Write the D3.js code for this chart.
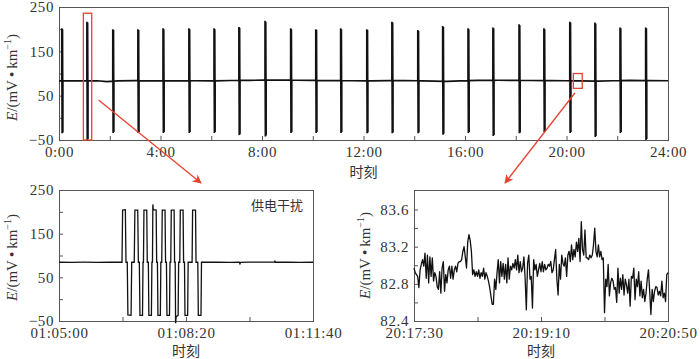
<!DOCTYPE html>
<html><head><meta charset="utf-8">
<script src="https://cdn.jsdelivr.net/npm/d3@7/dist/d3.min.js"></script>
<style>
html,body{margin:0;padding:0;background:#fff;}
</style></head>
<body>
<svg id="chart" width="700" height="359"></svg>
<script>
// ===== DATA =====
// Top overview: 24 h record
const topXTicks = [0, 4, 8, 12, 16, 20, 24];
const topXTickLabels = ["0:00", "4:00", "8:00", "12:00", "16:00", "20:00", "24:00"];
const topXMinor = [2, 6, 10, 14, 18, 22];
const topYTicks = [-50, 50, 150, 250];
const topYMinor = [0, 100, 200];
const baseHours = [0, 0.6, 1.5, 1.9, 2.3, 3.0, 3.6, 4.5, 5.3, 6.0, 6.8, 7.5, 8.0, 8.6, 9.3, 10.0, 10.6, 11.5, 12.3, 13.0, 13.6, 14.3, 14.8, 15.3, 15.8, 16.5, 17.3, 18.0, 18.6, 19.4, 20.0, 20.5, 21.3, 21.8, 22.5, 23.3, 24];
const baseValues = [83.5, 83.2, 83.6, 81.8, 83.4, 83.8, 83.3, 83.5, 83.6, 83.4, 84.2, 84.6, 85.0, 85.2, 84.8, 84.5, 84.0, 83.6, 83.3, 83.8, 84.0, 83.5, 82.6, 82.2, 83.4, 84.3, 84.8, 84.5, 84.2, 84.0, 83.7, 83.2, 82.6, 83.6, 84.6, 84.0, 83.6];
const spikeHours = [0.11, 1.10, 2.12, 3.11, 4.10, 5.12, 6.11, 7.09, 8.12, 9.13, 10.12, 11.10, 12.13, 13.12, 14.14, 15.12, 16.12, 17.10, 18.13, 19.11, 20.13, 21.12, 22.11, 23.12];
const spikeMax = [202, 217, 200, 200, 202, 202, 202, 205, 219, 202, 200, 202, 200, 217, 198, 207, 202, 204, 211, 202, 217, 215, 204, 204];
const spikeMin = [-35, -50, -34, -34, -34, -34, -34, -39, -42, -34, -34, -34, -35, -35, -35, -38, -34, -41, -35, -32, -34, -43, -34, -50];

// Bottom-left zoom: 01:05:00 - 01:11:40 (seconds from 01:05:00)
const leftXTicks = [0, 200, 400];
const leftXTickLabels = ["01:05:00", "01:08:20", "01:11:40"];
const leftXMinor = [100, 300];
const leftT = [0, 20, 40, 60, 80, 99.2, 100.2, 104.5, 105.5, 107.5, 108.5, 113.5, 114.5, 118.5, 119.5, 124, 125, 126.5, 127.5, 131.5, 132.3, 133, 133.8, 138.2, 139, 140.7, 141.5, 145.5, 146.3, 147.2, 147.8, 148.5, 153, 153.8, 155, 155.8, 159.6, 160.4, 161.8, 162.6, 167, 167.8, 169.2, 170, 174, 174.8, 176, 176.8, 181.3, 182, 183, 183.6, 184.5, 187.6, 188.4, 190.2, 191, 195.4, 196.2, 197.6, 198.4, 202.6, 203.4, 209.6, 210.4, 215, 215.8, 218.6, 219.4, 223.6, 224.4, 250, 270, 284, 285, 286, 300, 320, 339, 340, 341, 360, 380, 400];
const leftV = [84.5, 84.3, 84.6, 84.4, 84.5, 84.5, 204, 205, 84.5, 84.5, -36, -37, 84.5, 84.5, 204, 204, 84.5, 84.5, -37, -37, 84.5, 84.5, 204, 204, 84.5, 84.5, -37, -37, 84.5, 84.5, 217, 205, 204, 84.5, 84.5, -37, -37, 84.5, 84.5, 204, 204, 84.5, 84.5, -37, -37, 84.5, 84.5, 204, 204, 84.5, 84.5, -55, -40, -37, 84.5, 84.5, 204, 204, 84.5, 84.5, -37, -37, 84.5, 84.5, 204, 204, 84.5, 84.5, -37, -37, 84.5, 84.5, 84.4, 84.6, 81, 84.4, 84.6, 84.7, 84.8, 87, 84.6, 84.6, 84.4, 84.5];
const leftYTicks = [-50, 50, 150, 250];
const leftYMinor = [0, 100, 200];

// Bottom-right zoom: 20:17:30 - 20:20:50, ~1 s samples
const rightXTicks = [0, 100, 200];
const rightXTickLabels = ["20:17:30", "20:19:10", "20:20:50"];
const rightXMinor = [50, 150];
const rightYTicks = [82.4, 82.8, 83.2, 83.6];
const rightYMinor = [82.6, 83.0, 83.4];
const rightV = [82.97, 82.92, 82.90, 82.88, 82.76, 82.95, 83.01, 83.06, 82.99, 83.13, 82.86, 83.11, 82.81, 83.09, 82.88, 83.08, 82.83, 82.92, 82.88, 82.77, 82.74, 82.93, 82.70, 82.97, 83.04, 82.72, 82.90, 82.81, 82.95, 82.99, 82.86, 82.99, 82.85, 82.95, 82.99, 82.93, 83.02, 83.04, 83.04, 83.06, 83.15, 83.20, 83.09, 82.97, 83.25, 83.33, 83.27, 83.15, 82.90, 82.95, 82.88, 82.93, 82.88, 82.95, 82.86, 82.92, 82.88, 82.97, 82.85, 82.92, 82.88, 82.83, 82.76, 82.67, 82.58, 82.58, 82.85, 82.74, 82.92, 83.06, 82.81, 83.04, 82.88, 83.02, 82.85, 83.01, 82.81, 83.08, 82.85, 82.99, 82.95, 83.02, 82.97, 83.06, 82.95, 83.11, 82.92, 83.04, 82.93, 82.97, 83.09, 82.86, 82.52, 83.02, 83.11, 82.85, 82.88, 82.54, 83.06, 82.95, 83.01, 82.88, 82.95, 83.02, 82.93, 83.04, 82.93, 83.01, 82.95, 82.97, 83.01, 82.99, 83.04, 82.92, 82.95, 83.06, 83.17, 82.85, 82.68, 83.01, 82.85, 83.11, 83.02, 82.99, 83.08, 82.88, 83.11, 83.15, 83.04, 83.22, 83.06, 83.17, 83.09, 83.25, 83.15, 83.29, 83.04, 83.47, 83.17, 83.11, 83.38, 83.08, 83.08, 83.06, 83.11, 83.08, 83.11, 83.22, 83.40, 83.15, 83.09, 83.22, 83.09, 83.15, 83.06, 83.08, 82.49, 82.85, 82.77, 83.01, 82.67, 82.81, 82.86, 82.83, 82.74, 82.76, 82.60, 82.97, 82.70, 82.86, 82.74, 82.90, 82.68, 82.85, 82.79, 82.70, 82.85, 82.56, 82.88, 82.86, 82.97, 82.63, 82.85, 82.77, 82.93, 82.67, 82.83, 82.65, 82.74, 82.61, 82.70, 82.85, 82.95, 82.72, 82.47, 82.74, 82.61, 82.72, 82.77, 82.76, 82.68, 82.72, 82.67, 82.83, 82.65, 82.70, 82.61, 82.90, 82.92];
const rightDuration = 200;

// Annotation boxes (data coords of top chart)
const box1 = {t0: 0.96, t1: 1.29, v0: -50, v1: 236};
const box2 = {t0: 20.27, t1: 20.62, v0: 66.5, v1: 100};

// ===== DRAW =====
const SERIF = '"Liberation Serif", "DejaVu Serif", serif';
const CJK = '"Noto Sans CJK SC", "Noto Sans", sans-serif';
const svg = d3.select("#chart");
const FRAME = "#555", LINE = "#111", RED = "#e8412f";
const fmtMinus = v => (v < 0 ? "\u2212" + Math.abs(v) : "" + v);

function panel(g, x, y, opts) {
  const [x0, x1] = x.range(), [y0, y1] = y.range();
  g.append("g").attr("transform", `translate(0,${y0})`)
    .call(d3.axisBottom(x).tickValues(opts.xTicks).tickFormat((d, i) => opts.xLabels[i])
      .tickSizeInner(-4).tickSizeOuter(0).tickPadding(6));
  g.append("g").attr("transform", `translate(0,${y0})`)
    .call(d3.axisBottom(x).tickValues(opts.xMinor).tickFormat("").tickSizeInner(-4).tickSizeOuter(0));
  g.append("g").attr("transform", `translate(${x0},0)`)
    .call(d3.axisLeft(y).tickValues(opts.yTicks).tickFormat(opts.yFmt)
      .tickSizeInner(-4).tickSizeOuter(0).tickPadding(5));
  g.append("g").attr("transform", `translate(${x0},0)`)
    .call(d3.axisLeft(y).tickValues(opts.yMinor).tickFormat("").tickSizeInner(-4).tickSizeOuter(0));
  g.selectAll(".domain").remove();
  g.selectAll(".tick line").attr("stroke", FRAME);
  g.selectAll(".tick text").attr("fill", "#333")
    .style("font-family", SERIF).style("font-size", "15px").style("letter-spacing", "0.6px");
  g.append("rect").attr("x", x0 + 0.5).attr("y", y1 + 0.5)
    .attr("width", x1 - x0).attr("height", y0 - y1)
    .attr("fill", "none").attr("stroke", FRAME).attr("stroke-width", 1);
  g.append("text").attr("x", (x0 + x1) / 2).attr("y", opts.xLabelY)
    .attr("text-anchor", "middle").style("font-family", CJK).style("font-size", "14px")
    .attr("fill", "#333").text("时刻");
  const yl = g.append("text")
    .attr("transform", `translate(${opts.yLabelX},${(y0 + y1) / 2 + opts.yLabelDy}) rotate(-90)`)
    .attr("text-anchor", "middle").style("font-family", SERIF).style("font-size", "15px").attr("fill", "#333");
  yl.append("tspan").attr("font-style", "italic").text("E");
  yl.append("tspan").text("/(mV\u2009\u2022\u2009km");
  yl.append("tspan").attr("dy", -6).style("font-size", "10px").text("\u22121");
  yl.append("tspan").attr("dy", 6).text(")");
}

// --- top panel ---
const xTop = d3.scaleLinear().domain([0, 24]).range([59, 668]);
const yTop = d3.scaleLinear().domain([-50, 250]).range([140, 7]);
const gTop = svg.append("g");
panel(gTop, xTop, yTop, {
  xTicks: topXTicks, xLabels: topXTickLabels, xMinor: topXMinor,
  yTicks: topYTicks, yMinor: topYMinor, yFmt: fmtMinus,
  xLabelY: 177, yLabelX: 17, yLabelDy: 4
});
const baseAt = d3.scaleLinear().domain(baseHours).range(baseValues);
let topPts = baseHours.map((h, i) => [h, baseValues[i]]);
spikeHours.forEach((h, i) => {
  const b = baseAt(h);
  const w = 0.014;
  topPts.push([h - 0.001, b], [h, spikeMax[i]], [h + w, spikeMin[i]], [h + 2 * w, spikeMax[i] - 2],
              [h + 3 * w, spikeMin[i] + 2], [h + 3 * w + 0.001, b]);
});
topPts.sort((a, b) => a[0] - b[0]);
gTop.append("path").datum(topPts)
  .attr("d", d3.line().x(d => xTop(d[0])).y(d => yTop(d[1])))
  .attr("fill", "none").attr("stroke", LINE).attr("stroke-width", 1.7).attr("stroke-linejoin", "miter");

[box1, box2].forEach(b => {
  gTop.append("rect").attr("x", xTop(b.t0)).attr("y", yTop(b.v1))
    .attr("width", xTop(b.t1) - xTop(b.t0)).attr("height", yTop(b.v0) - yTop(b.v1))
    .attr("fill", "none").attr("stroke", RED).attr("stroke-width", 1.3);
});

// --- bottom-left ---
const xL = d3.scaleLinear().domain([0, 400]).range([59, 313]);
const yL = d3.scaleLinear().domain([-50, 250]).range([321, 190]);
const gL = svg.append("g");
panel(gL, xL, yL, {
  xTicks: leftXTicks, xLabels: leftXTickLabels, xMinor: leftXMinor,
  yTicks: leftYTicks, yMinor: leftYMinor, yFmt: fmtMinus,
  xLabelY: 356, yLabelX: 17, yLabelDy: 2
});
gL.append("path").datum(leftT.map((t, i) => [t, leftV[i]]))
  .attr("d", d3.line().x(d => xL(d[0])).y(d => yL(d[1])))
  .attr("fill", "none").attr("stroke", LINE).attr("stroke-width", 1.3);
gL.append("text").attr("x", 277).attr("y", 210).attr("text-anchor", "middle")
  .style("font-family", CJK).style("font-size", "13px").attr("fill", "#333").text("供电干扰");

// --- bottom-right ---
const xR = d3.scaleLinear().domain([0, 200]).range([414, 668]);
const yR = d3.scaleLinear().domain([82.4, 83.81]).range([321, 190]);
const gR = svg.append("g");
panel(gR, xR, yR, {
  xTicks: rightXTicks, xLabels: rightXTickLabels, xMinor: rightXMinor,
  yTicks: rightYTicks, yMinor: rightYMinor, yFmt: d3.format(".1f"),
  xLabelY: 356, yLabelX: 370, yLabelDy: 0
});
const dt = rightDuration / (rightV.length - 1);
gR.append("path").datum(rightV)
  .attr("d", d3.line().x((d, i) => xR(i * dt)).y(d => yR(d)))
  .attr("fill", "none").attr("stroke", LINE).attr("stroke-width", 1.3).attr("stroke-linejoin", "round");

// --- arrows ---
const defs = svg.append("defs");
defs.append("marker").attr("id", "ah").attr("viewBox", "0 0 10 10").attr("refX", 9).attr("refY", 5)
  .attr("markerWidth", 9).attr("markerHeight", 9).attr("markerUnits", "userSpaceOnUse").attr("orient", "auto")
  .append("path").attr("d", "M0,0 L10,5 L0,10 L3,5 Z").attr("fill", RED);
const arrows = [
  {x1: xTop(1.56), y1: 100, x2: 201, y2: 183},
  {x1: xTop(20.33), y1: 93, x2: 505, y2: 183}
];
arrows.forEach(a => {
  svg.append("line").attr("x1", a.x1).attr("y1", a.y1).attr("x2", a.x2).attr("y2", a.y2)
    .attr("stroke", RED).attr("stroke-width", 1.3).attr("marker-end", "url(#ah)");
});
</script>
</body></html>
